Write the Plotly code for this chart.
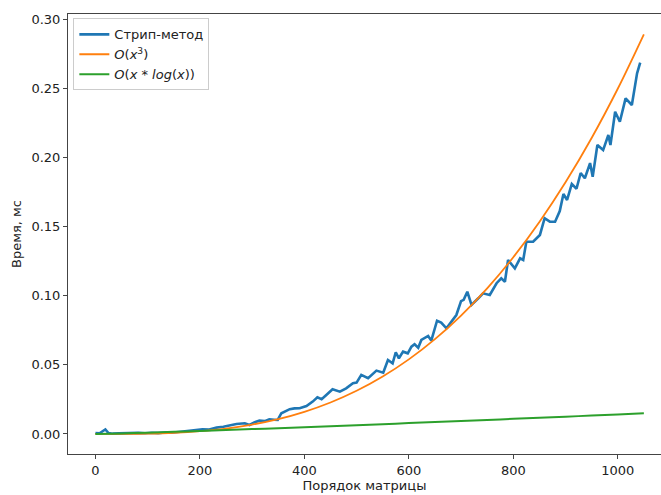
import plotly.graph_objects as go

# Blue series (Strip method)
strip_x = [0, 8, 13, 19, 25, 33, 45, 58, 70, 82, 95, 108, 120, 133, 146, 158, 170, 186, 205, 218,
           232, 245, 257, 270, 286, 295, 305, 314, 324, 333, 342, 349, 356, 364, 372, 381, 391,
           404, 416, 425, 433, 442, 454, 468, 480, 493, 500, 509, 522, 538, 551, 560, 569, 575,
           581, 589, 598, 605, 611, 618, 624, 637, 643, 654, 662, 672, 691, 700, 705, 712, 720,
           733, 742, 755, 768, 777, 784, 790, 797, 803, 813, 819, 825, 838, 851, 860, 870, 880,
           889, 896, 903, 912, 921, 929, 937, 947, 952, 961, 972, 982, 986, 995, 1004, 1015,
           1027, 1033, 1037, 1043]
strip_y = [0.0007, 0.0004, 0.0018, 0.0033, 0.0007, 0.0002, 0.0004, 0.0006, 0.0003, 0.0008,
           0.0005, 0.0009, 0.0006, 0.0011, 0.0009, 0.0015, 0.0017, 0.0029, 0.0034, 0.0032,
           0.0046, 0.0052, 0.0060, 0.0072, 0.0077, 0.0065, 0.0085, 0.0096, 0.0093, 0.0106,
           0.0103, 0.0101, 0.0150, 0.0165, 0.0179, 0.0185, 0.0186,
           0.0202, 0.0234, 0.0265, 0.0251, 0.0282, 0.0323, 0.0306, 0.0330, 0.0367, 0.0371,
           0.0427, 0.0403, 0.0458, 0.0443, 0.0535, 0.0511, 0.0591, 0.0547, 0.0595, 0.0583,
           0.0631, 0.0649, 0.0624, 0.0680, 0.0709, 0.0675, 0.0819, 0.0805, 0.0764, 0.0860,
           0.0960, 0.0970, 0.1029, 0.0933, 0.0981, 0.1017, 0.1005, 0.1090, 0.1126, 0.1101,
           0.1258, 0.1222, 0.1198, 0.1270, 0.1258, 0.1390, 0.1390, 0.1439, 0.1560, 0.1535,
           0.1535, 0.1612, 0.1735, 0.1692, 0.1808, 0.1773, 0.1887, 0.1849, 0.1959, 0.1860,
           0.2090, 0.2053, 0.2162, 0.2090, 0.2330, 0.2258, 0.2427, 0.2379, 0.2536, 0.2608,
           0.2685]

# Reference curves
ref_x = [0, 50, 100, 150, 200, 250, 300, 350, 400, 450, 500, 550, 600, 650, 700, 750, 800,
         850, 900, 950, 1000, 1050]
cubic_y = [0.0, 0.00003, 0.00025, 0.00084, 0.0020, 0.0039, 0.00674, 0.0107, 0.0160, 0.02275,
           0.0312, 0.04155, 0.05392, 0.06856, 0.08563, 0.10532, 0.12782, 0.15332, 0.1820,
           0.21404, 0.24965, 0.2890]
nlogn_y = [0.0, 0.0004, 0.00094, 0.00153, 0.00216, 0.00282, 0.00349, 0.00418, 0.00489,
           0.00561, 0.00634, 0.00708, 0.00783, 0.00859, 0.00936, 0.01013, 0.01091, 0.0117,
           0.01249, 0.01329, 0.01409, 0.0149]

x_ticks = [0, 200, 400, 600, 800, 1000]
y_ticks = [0.0, 0.05, 0.10, 0.15, 0.20, 0.25, 0.30]

FONT = "DejaVu Sans"

fig = go.Figure()
fig.add_trace(go.Scatter(x=strip_x, y=strip_y, mode="lines", name="Стрип-метод",
                         line=dict(color="#1f77b4", width=2.6)))
fig.add_trace(go.Scatter(x=ref_x, y=cubic_y, mode="lines",
                         name="<i>O</i>(<i>x</i><sup>3</sup>)",
                         line=dict(color="#ff7f0e", width=1.8, shape="spline")))
fig.add_trace(go.Scatter(x=ref_x, y=nlogn_y, mode="lines",
                         name="<i>O</i>(<i>x</i> * <i>log</i>(<i>x</i>))",
                         line=dict(color="#2ca02c", width=2.0, shape="spline")))

fig.update_layout(
    width=661, height=495,
    margin=dict(l=68, r=0, t=14, b=41),
    paper_bgcolor="white", plot_bgcolor="white",
    font=dict(family=FONT, size=13, color="#222"),
    showlegend=True,
    legend=dict(x=0.009, y=0.99, xanchor="left", yanchor="top",
                bordercolor="#cccccc", borderwidth=1, bgcolor="rgba(255,255,255,0.85)",
                font=dict(family=FONT, size=13, color="#222"),
                itemwidth=30),
)
fig.update_xaxes(range=[-52.5, 1082.8], tickmode="array", tickvals=x_ticks,
                 ticktext=[str(v) for v in x_ticks], automargin=False,
                 showline=True, linecolor="#444", linewidth=1, mirror=True,
                 ticks="outside", ticklen=4, tickcolor="#444", showgrid=False, zeroline=False,
                 title=dict(text="Порядок матрицы", font=dict(family=FONT, size=13, color="#222"),
                            standoff=4))
fig.update_yaxes(range=[-0.0145, 0.3037], tickmode="array", tickvals=y_ticks,
                 ticktext=[f"{v:.2f}" for v in y_ticks], automargin=False,
                 showline=True, linecolor="#444", linewidth=1, mirror=False,
                 ticks="outside", ticklen=4, tickcolor="#444", showgrid=False, zeroline=False,
                 title=dict(text="Время, мс", font=dict(family=FONT, size=13, color="#222"),
                            standoff=6))

fig.write_html("out.html", config={"displayModeBar": False},
               post_script="document.body.style.margin='0';document.body.style.overflow='hidden';")
